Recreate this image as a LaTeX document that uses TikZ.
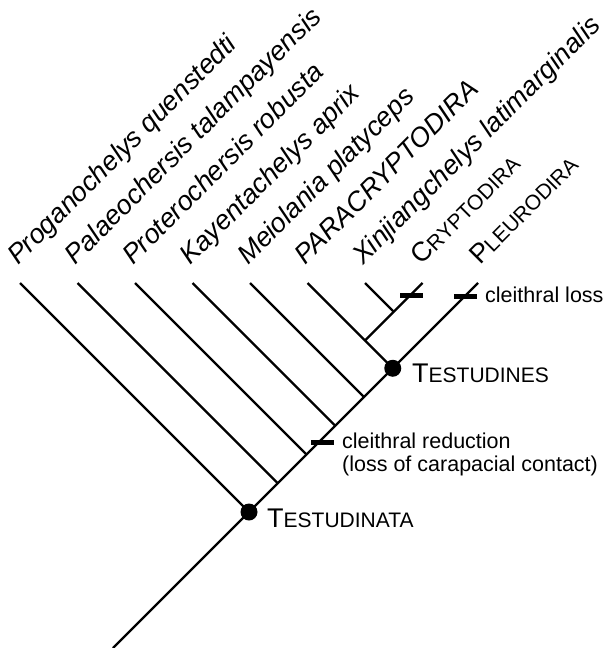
\documentclass[tikz,border=0pt]{standalone}
\usepackage{fontspec}
\setmainfont{Liberation Sans}
\newcommand{\myscap}[2]{{\fontsize{27}{30}\selectfont #1}{\fontsize{21}{24}\selectfont #2}}
\begin{document}
\begin{tikzpicture}[x=1pt,y=-1pt,
  br/.style={line width=2.4pt},
  sp/.style={font=\fontsize{27}{30}\selectfont\itshape, rotate=45, anchor=base west, inner sep=0pt},
  cl/.style={font=\fontsize{27}{30}\selectfont, rotate=45, anchor=base west, inner sep=0pt},
  cladelab/.style={font=\fontsize{27}{30}\selectfont, anchor=base west, inner sep=0pt},
  note/.style={font=\fontsize{21.5}{23}\selectfont, anchor=base west, inner sep=0pt},
  tickbar/.style={line width=5pt},
  dot/.style={circle, fill=black, minimum size=17pt, inner sep=0pt}]
\useasboundingbox (0,0) rectangle (605,648);
% tips
\coordinate (root) at (113,648);
\coordinate (tP)  at (20,283);
\coordinate (tPa) at (77.5,283);
\coordinate (tPr) at (135,283);
\coordinate (tK)  at (192.5,283);
\coordinate (tM)  at (250,283);
\coordinate (tPc) at (307.5,283);
\coordinate (tX)  at (365,283);
\coordinate (tC)  at (422.5,283);
\coordinate (tPl) at (478,283);
% junctions
\coordinate (jP)  at (249,512);
\coordinate (jPa) at (277.75,483.25);
\coordinate (jPr) at (306.5,454.5);
\coordinate (jK)  at (335.25,425.75);
\coordinate (jM)  at (364,397);
\coordinate (jT)  at (392.75,368.25);
\coordinate (jC)  at (365,340.5);
\coordinate (jX)  at (393.75,311.75);
% branches
\draw[br] (root) -- (tPl);
\draw[br] (tP) -- (jP);
\draw[br] (tPa) -- (jPa);
\draw[br] (tPr) -- (jPr);
\draw[br] (tK) -- (jK);
\draw[br] (tM) -- (jM);
\draw[br] (tPc) -- (jT);
\draw[br] (jC) -- (tC);
\draw[br] (tX) -- (jX);
% dots
\node[dot] (dTa) at (jP) {};
\node[dot] (dTe) at (jT) {};
% ticks
\draw[tickbar] (400,295) -- (423,295);
\draw[tickbar] (454,296) -- (477,296);
\draw[tickbar] (311,442) -- (334,442);
% taxon labels
\node[sp] (lP)  at ([shift={(-2,-17)}]tP)  {Proganochelys quenstedti};
\node[sp] (lPa) at ([shift={(-2,-17)}]tPa) {Palaeochersis talampayensis};
\node[sp] (lPr) at ([shift={(-2,-17)}]tPr) {Proterochersis robusta};
\node[sp] (lK)  at ([shift={(-2,-17)}]tK)  {Kayentachelys aprix};
\node[sp] (lM)  at ([shift={(-2,-17)}]tM)  {Meiolania platyceps};
\node[sp] (lPc) at ([shift={(-2,-17)}]tPc) {PARACRYPTODIRA};
\node[sp] (lX)  at ([shift={(-2,-17)}]tX)  {Xinjiangchelys latimarginalis};
\node[cl] (lC)  at ([shift={(-1,-17)}]tC)  {\myscap{C}{RYPTODIRA}};
\node[cl] (lPl) at ([shift={(2,-17)}]tPl)  {\myscap{P}{LEURODIRA}};
% clade labels
\node[cladelab] (lTa) at (267,527) {\myscap{T}{ESTUDINATA}};
\node[cladelab] (lTe) at (412,382) {\myscap{T}{ESTUDINES}};
% notes
\node[note] (n1) at (485,302.5) {cleithral loss};
\node[note] (n2) at (342,448) {cleithral reduction};
\node[note] (n3) at (342,471) {(loss of carapacial contact)};
\end{tikzpicture}
\end{document}
